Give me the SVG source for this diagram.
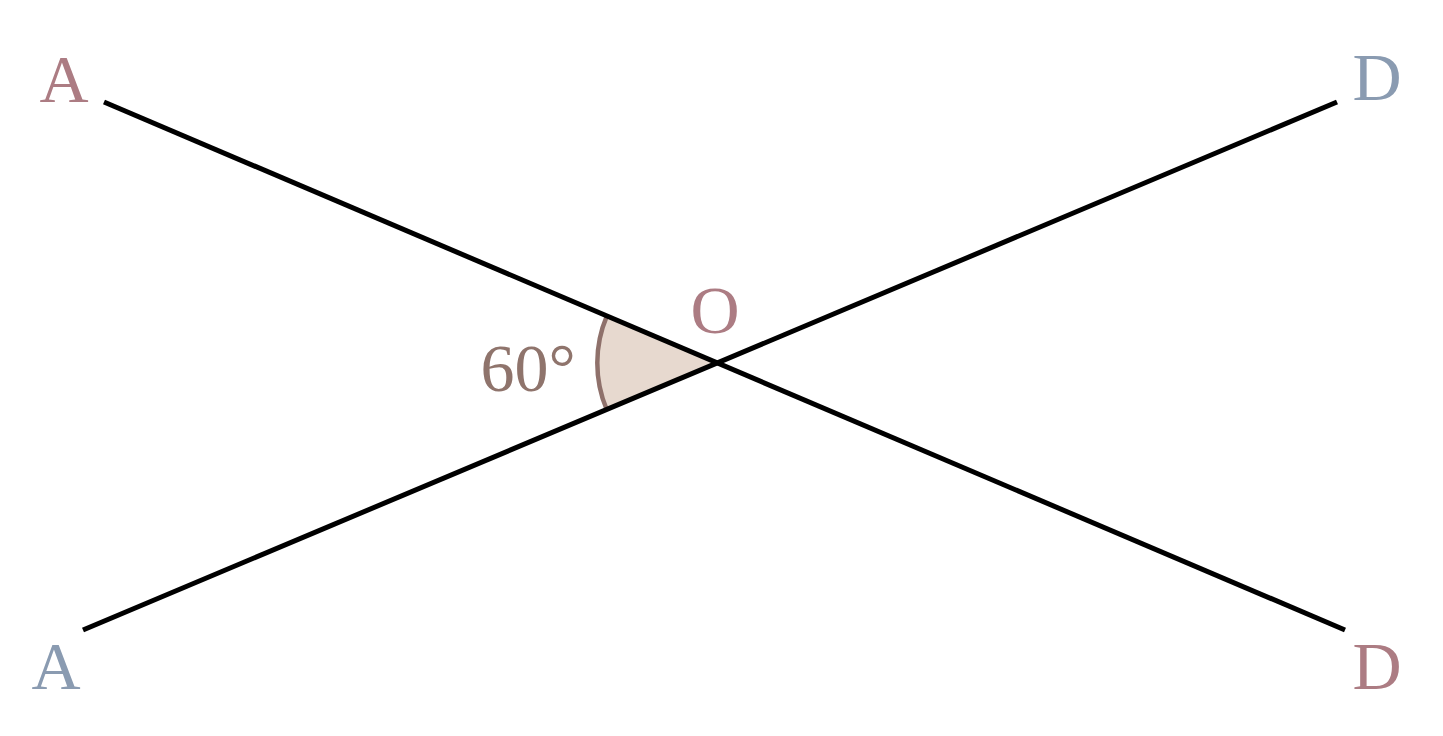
<svg xmlns="http://www.w3.org/2000/svg" width="1443" height="736" viewBox="0 0 1443 736">
<style>
.ln{stroke:#000;stroke-width:5;fill:none;stroke-linecap:butt}
.lbl{font-family:"Liberation Serif","DejaVu Serif",serif;font-size:68px;text-anchor:middle}
.pink{fill:#ac7c83}
.blue{fill:#8a9bb1}
</style>
<rect width="1443" height="736" fill="#fff"/>
<g id="angle">
<path d="M717.3,362.9 L606.9,315.9 A120,120 0 0 0 606.7,409.5 Z" fill="#e7d9cf" stroke="none"/>
<path d="M606.9,315.9 A120,120 0 0 0 606.7,409.5" fill="none" stroke="#8f716b" stroke-width="4.5"/>
</g>
<g id="connectors">
<line class="ln" x1="104" y1="102" x2="1345" y2="630"/>
<line class="ln" x1="83" y1="630" x2="1337" y2="102"/>
</g>
<g id="label-A-top"><text class="lbl pink" x="64" y="102">A</text></g>
<g id="label-D-top"><text class="lbl blue" x="1377" y="100">D</text></g>
<g id="label-A-bottom"><text class="lbl blue" x="56" y="689">A</text></g>
<g id="label-D-bottom"><text class="lbl pink" x="1377" y="689">D</text></g>
<g id="label-O"><text class="lbl pink" x="715" y="333">O</text></g>
<g id="label-angle"><text class="lbl" x="528" y="391" fill="#8f746c">60°</text></g>
</svg>
